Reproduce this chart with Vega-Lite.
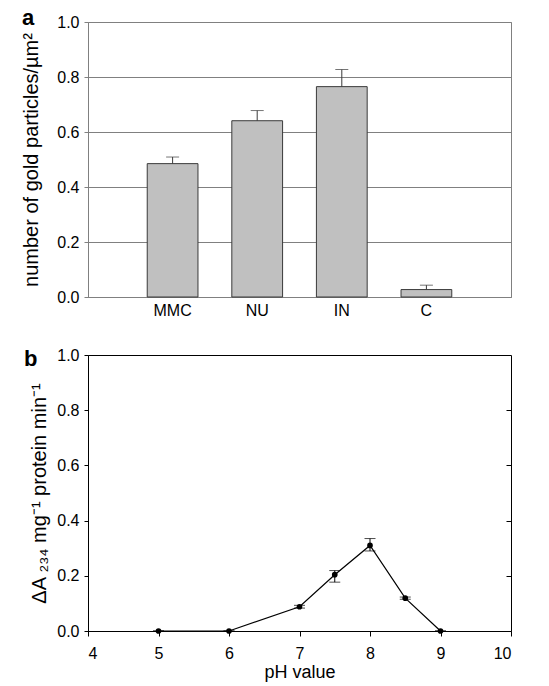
{
  "$schema": "https://vega.github.io/schema/vega-lite/v6.json",
  "padding": {"left": 21, "top": 6, "right": 5, "bottom": 3},
  "spacing": 27,
  "config": {
    "font": "Liberation Sans",
    "axis": {"labelFont": "Liberation Sans", "titleFont": "Liberation Sans", "labelFontSize": 16, "titleFontSize": 20, "labelColor": "#000", "titleColor": "#000", "titleFontWeight": "normal"},
    "title": {"font": "Liberation Sans"}
  },
  "vconcat": [
    {
      "width": 423,
      "height": 275,
      "title": {"text": "a", "anchor": "start", "frame": "group", "baseline": "alphabetic", "fontSize": 22, "fontWeight": "bold", "color": "#000", "offset": 0, "dy": 33, "dx": -66},
      "view": {"stroke": "#808080", "strokeWidth": 1},
      "data": {"values": [
        {"site": "MMC", "mean": 0.485, "upper": 0.509},
        {"site": "NU", "mean": 0.641, "upper": 0.678},
        {"site": "IN", "mean": 0.765, "upper": 0.827},
        {"site": "C", "mean": 0.027, "upper": 0.043}
      ]},
      "layer": [
        {
          "mark": {"type": "bar", "fill": "#c0c0c0", "stroke": "#3a3a3a", "strokeWidth": 1},
          "encoding": {
            "x": {"field": "site", "type": "nominal", "sort": null,
                  "scale": {"paddingInner": 0.4, "paddingOuter": 0.7},
                  "axis": {"title": null, "labelAngle": 0, "ticks": false, "labelPadding": 5, "domainColor": "#808080"}},
            "y": {"field": "mean", "type": "quantitative",
                  "scale": {"domain": [0, 1], "nice": false},
                  "axis": {"title": "number of gold particles/µm²", "values": [0, 0.2, 0.4, 0.6, 0.8, 1.0], "format": ".1f",
                           "grid": true, "gridColor": "#808080", "gridOpacity": 1, "domainColor": "#808080", "tickColor": "#808080",
                           "tickSize": 4, "labelPadding": 5, "titlePadding": 15}}
          }
        },
        {
          "mark": {"type": "rule", "color": "#3a3a3a", "strokeWidth": 1},
          "encoding": {
            "x": {"field": "site", "type": "nominal", "sort": null},
            "y": {"field": "mean", "type": "quantitative"},
            "y2": {"field": "upper"}
          }
        },
        {
          "mark": {"type": "tick", "color": "#3a3a3a", "size": 13, "thickness": 1},
          "encoding": {
            "x": {"field": "site", "type": "nominal", "sort": null},
            "y": {"field": "upper", "type": "quantitative"}
          }
        }
      ]
    },
    {
      "width": 423,
      "height": 276,
      "title": {"text": "b", "anchor": "start", "frame": "group", "baseline": "alphabetic", "fontSize": 22, "fontWeight": "bold", "color": "#000", "offset": 0, "dy": 41, "dx": -64},
      "view": {"stroke": "#000", "strokeWidth": 1},
      "data": {"values": [
        {"pH": 5, "mean": 0.0, "lo": 0.0, "hi": 0.0},
        {"pH": 6, "mean": 0.0, "lo": 0.0, "hi": 0.0},
        {"pH": 7, "mean": 0.088, "lo": 0.083, "hi": 0.093},
        {"pH": 7.5, "mean": 0.204, "lo": 0.177, "hi": 0.219},
        {"pH": 8, "mean": 0.31, "lo": 0.29, "hi": 0.335},
        {"pH": 8.5, "mean": 0.119, "lo": 0.115, "hi": 0.123},
        {"pH": 9, "mean": 0.0, "lo": 0.0, "hi": 0.0}
      ]},
      "resolve": {"axis": {"y": "independent"}},
      "layer": [
        {
          "mark": {"type": "line", "color": "#000", "strokeWidth": 1.2},
          "encoding": {
            "x": {"field": "pH", "type": "quantitative",
                  "scale": {"domain": [4, 10], "nice": false},
                  "axis": {"title": "pH value", "titleFontSize": 18, "values": [4, 5, 6, 7, 8, 9, 10], "format": "d", "grid": false,
                           "domainColor": "#000", "tickColor": "#000", "tickSize": 5, "labelPadding": 9, "titlePadding": 2}},
            "y": {"field": "mean", "type": "quantitative",
                  "scale": {"domain": [0, 1], "nice": false},
                  "axis": {"title": "ΔA ₂₃₄ mg⁻¹ protein min⁻¹", "values": [0, 0.2, 0.4, 0.6, 0.8, 1.0], "format": ".1f", "grid": false,
                           "domainColor": "#000", "tickColor": "#000", "tickSize": 4, "labelPadding": 5, "titlePadding": 7}}
          }
        },
        {
          "mark": {"type": "rule", "color": "#000", "strokeWidth": 1},
          "encoding": {
            "x": {"field": "pH", "type": "quantitative"},
            "y": {"field": "lo", "type": "quantitative", "axis": {"orient": "right", "labels": false, "title": null, "grid": false, "domain": false, "tickSize": -5, "tickColor": "#000", "values": [0.2, 0.4, 0.6, 0.8]}},
            "y2": {"field": "hi"}
          }
        },
        {
          "mark": {"type": "tick", "color": "#000", "size": 11, "thickness": 1, "orient": "horizontal"},
          "encoding": {
            "x": {"field": "pH", "type": "quantitative"},
            "y": {"field": "lo", "type": "quantitative", "axis": null}
          }
        },
        {
          "mark": {"type": "tick", "color": "#000", "size": 11, "thickness": 1, "orient": "horizontal"},
          "encoding": {
            "x": {"field": "pH", "type": "quantitative"},
            "y": {"field": "hi", "type": "quantitative", "axis": null}
          }
        },
        {
          "mark": {"type": "point", "filled": true, "color": "#000", "size": 32, "opacity": 1},
          "encoding": {
            "x": {"field": "pH", "type": "quantitative"},
            "y": {"field": "mean", "type": "quantitative", "axis": null}
          }
        }
      ]
    }
  ]
}
